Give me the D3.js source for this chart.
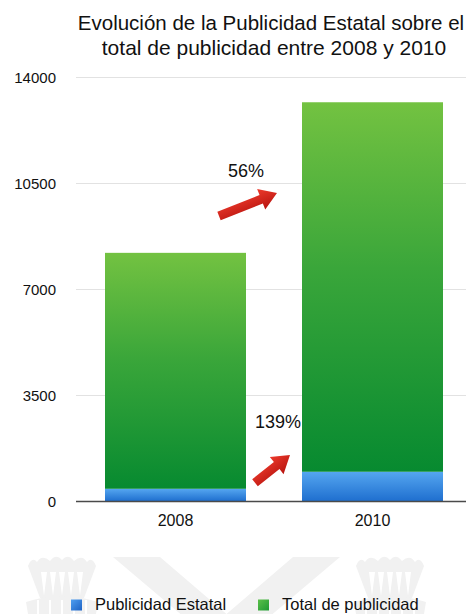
<!DOCTYPE html>
<html>
<head>
<meta charset="utf-8">
<script src="https://cdn.jsdelivr.net/npm/d3@7"></script>
<style>
  html, body { margin: 0; padding: 0; background: #fff; overflow: hidden; }
  svg { display: block; font-family: "Liberation Sans", Arial, Helvetica, sans-serif; }
</style>
</head>
<body>
<svg id="chart" width="466" height="614"></svg>
<script>
// ---- data ----
const categories = ['2008', '2010'];
const publicidadEstatal = [404, 966];
const totalPublicidad = [7790, 12200];
const yTickValues = [0, 3500, 7000, 10500, 14000];
const seriesNames = ['Publicidad Estatal', 'Total de publicidad'];
const growthLabels = ['56%', '139%'];
const titleLines = ['Evolución de la Publicidad Estatal sobre el', 'total de publicidad entre 2008 y 2010'];

// ---- setup ----
const W = 466, H = 614;
const svg = d3.select('#chart');
const defs = svg.append('defs');

const x = d3.scaleBand().domain(categories).range([76, 472]).paddingInner(0.2843).paddingOuter(0.1472);
const y = d3.scaleLinear().domain([0, 14000]).range([501, 77]);

// gradients
const gGreen = defs.append('linearGradient').attr('id', 'gGreen').attr('x1', 0).attr('y1', 0).attr('x2', 0).attr('y2', 1);
gGreen.append('stop').attr('offset', '0%').attr('stop-color', '#73c241');
gGreen.append('stop').attr('offset', '45%').attr('stop-color', '#3aa63a');
gGreen.append('stop').attr('offset', '100%').attr('stop-color', '#078a30');
const gBlue = defs.append('linearGradient').attr('id', 'gBlue').attr('x1', 0).attr('y1', 0).attr('x2', 0).attr('y2', 1);
gBlue.append('stop').attr('offset', '0%').attr('stop-color', '#55a6f0');
gBlue.append('stop').attr('offset', '100%').attr('stop-color', '#1f6fcf');
const gRed = defs.append('linearGradient').attr('id', 'gRed').attr('x1', 0).attr('y1', 0).attr('x2', 0).attr('y2', 1);
gRed.append('stop').attr('offset', '0%').attr('stop-color', '#ec3a2c');
gRed.append('stop').attr('offset', '100%').attr('stop-color', '#b8140f');
const gLegB = defs.append('linearGradient').attr('id', 'gLegB').attr('x1', 0).attr('y1', 0).attr('x2', 1).attr('y2', 1);
gLegB.append('stop').attr('offset', '0%').attr('stop-color', '#4f9ff0');
gLegB.append('stop').attr('offset', '100%').attr('stop-color', '#1d62c4');
const gLegG = defs.append('linearGradient').attr('id', 'gLegG').attr('x1', 0).attr('y1', 0).attr('x2', 1).attr('y2', 1);
gLegG.append('stop').attr('offset', '0%').attr('stop-color', '#5cc04a');
gLegG.append('stop').attr('offset', '100%').attr('stop-color', '#1e9a33');

// ---- watermark (decorative) ----
const wm = svg.append('g').attr('fill', '#f1f1f1');
wm.append('path').attr('d', 'M113,557 L160,557 L226.5,614 L293,557 L340,557 L226.5,653 Z');
function crown(cx) {
  const g = wm.append('g').attr('transform', `translate(${cx},0)`);
  g.append('path').attr('d',
    'M-34,566 Q-30,556 -25,562 Q-20,554 -12,561 Q-6,553 0,560 Q6,553 12,561 Q20,554 25,562 Q30,556 34,566 L22,598 L-22,598 Z');
  [-18, -9, 0, 9, 18].forEach(dx => {
    g.append('path').attr('d', `M${dx - 3},${572} L${dx + 3},${572} L${dx},${596} Z`).attr('fill', '#fff');
  });
  g.append('path').attr('d', 'M-36,602 Q0,590 36,602 L34,614 L-34,614 Z');
  [-24, -12, 0, 12, 24].forEach(dx => {
    g.append('rect').attr('x', dx - 1).attr('y', 600).attr('width', 2).attr('height', 14).attr('fill', '#fff');
  });
}
crown(62);
crown(390);

// ---- title ----
const titleSizes = [20.5, 21];
const titleX = [271, 274];
svg.append('g').selectAll('text').data(titleLines).join('text')
  .attr('x', (d, i) => titleX[i]).attr('y', (d, i) => 30 + i * 25)
  .attr('text-anchor', 'middle').attr('font-size', (d, i) => titleSizes[i]).attr('fill', '#111')
  .text(d => d);

// ---- grid + y labels ----
svg.append('g').selectAll('line').data(yTickValues.filter(v => v > 0)).join('line')
  .attr('x1', 76).attr('x2', W).attr('y1', d => y(d) + 0.5).attr('y2', d => y(d) + 0.5)
  .attr('stroke', '#e2e2e2').attr('stroke-width', 1);

svg.append('g').selectAll('text').data(yTickValues).join('text')
  .attr('x', 56).attr('y', d => y(d) + 6)
  .attr('text-anchor', 'end').attr('font-size', 15).attr('fill', '#111')
  .text(d => d);

// ---- growth annotations (behind bars) ----
const gapLeft = x(categories[0]) + x.bandwidth();
const gapMid = (gapLeft + x(categories[1])) / 2;
const arrowDefs = [
  { label: growthLabels[0], lx: gapMid - 28, ly: y(10500) - 6, tail: [gapLeft - 27, y(9410)], tip: [gapLeft + 31, y(10170)] },
  { label: growthLabels[1], lx: gapMid + 4, ly: y(2400), tail: [gapLeft + 9, y(600)], tip: [gapLeft + 44, y(1520)] }
];
svg.append('g').selectAll('text').data(arrowDefs).join('text')
  .attr('x', d => d.lx).attr('y', d => d.ly)
  .attr('text-anchor', 'middle').attr('font-size', 18).attr('fill', '#111')
  .text(d => d.label);

arrowDefs.forEach(a => {
  const dx = a.tip[0] - a.tail[0], dy = a.tip[1] - a.tail[1];
  const L = Math.sqrt(dx * dx + dy * dy);
  const ang = Math.atan2(dy, dx) * 180 / Math.PI;
  const hl = 17, hw = 11, sw = 4.5;
  svg.append('path')
    .attr('transform', `translate(${a.tail[0]},${a.tail[1]}) rotate(${ang})`)
    .attr('d', `M0,${-sw} L${L - hl},${-sw} L${L - hl},${-hw} L${L},0 L${L - hl},${hw} L${L - hl},${sw} L0,${sw} Z`)
    .attr('fill', 'url(#gRed)');
});

// ---- bars ----
const bars = svg.append('g');
bars.selectAll('rect.est').data(categories).join('rect').attr('class', 'est')
  .attr('x', d => x(d)).attr('width', x.bandwidth())
  .attr('y', (d, i) => y(publicidadEstatal[i]))
  .attr('height', (d, i) => y(0) - y(publicidadEstatal[i]))
  .attr('fill', 'url(#gBlue)');
bars.selectAll('rect.tot').data(categories).join('rect').attr('class', 'tot')
  .attr('x', d => x(d)).attr('width', x.bandwidth())
  .attr('y', (d, i) => y(publicidadEstatal[i] + totalPublicidad[i]))
  .attr('height', (d, i) => y(publicidadEstatal[i]) - y(publicidadEstatal[i] + totalPublicidad[i]))
  .attr('fill', 'url(#gGreen)');

// baseline
svg.append('line').attr('x1', 76).attr('x2', W).attr('y1', y(0) + 0.5).attr('y2', y(0) + 0.5)
  .attr('stroke', '#4a4a4a').attr('stroke-width', 1.5);

// x labels
svg.append('g').selectAll('text').data(categories).join('text')
  .attr('x', d => x(d) + x.bandwidth() / 2).attr('y', 526)
  .attr('text-anchor', 'middle').attr('font-size', 16).attr('fill', '#111')
  .text(d => d);

// ---- legend ----
const legendX = [71, 258];
const leg = svg.append('g').selectAll('g').data(seriesNames).join('g')
  .attr('transform', (d, i) => `translate(${legendX[i]},0)`);
leg.append('rect').attr('x', 0).attr('y', 599.5).attr('width', 11).attr('height', 11)
  .attr('fill', (d, i) => i === 0 ? 'url(#gLegB)' : 'url(#gLegG)');
leg.append('text').attr('x', 24).attr('y', 609.5).attr('font-size', 16.5).attr('fill', '#111').text(d => d);
</script>
</body>
</html>
